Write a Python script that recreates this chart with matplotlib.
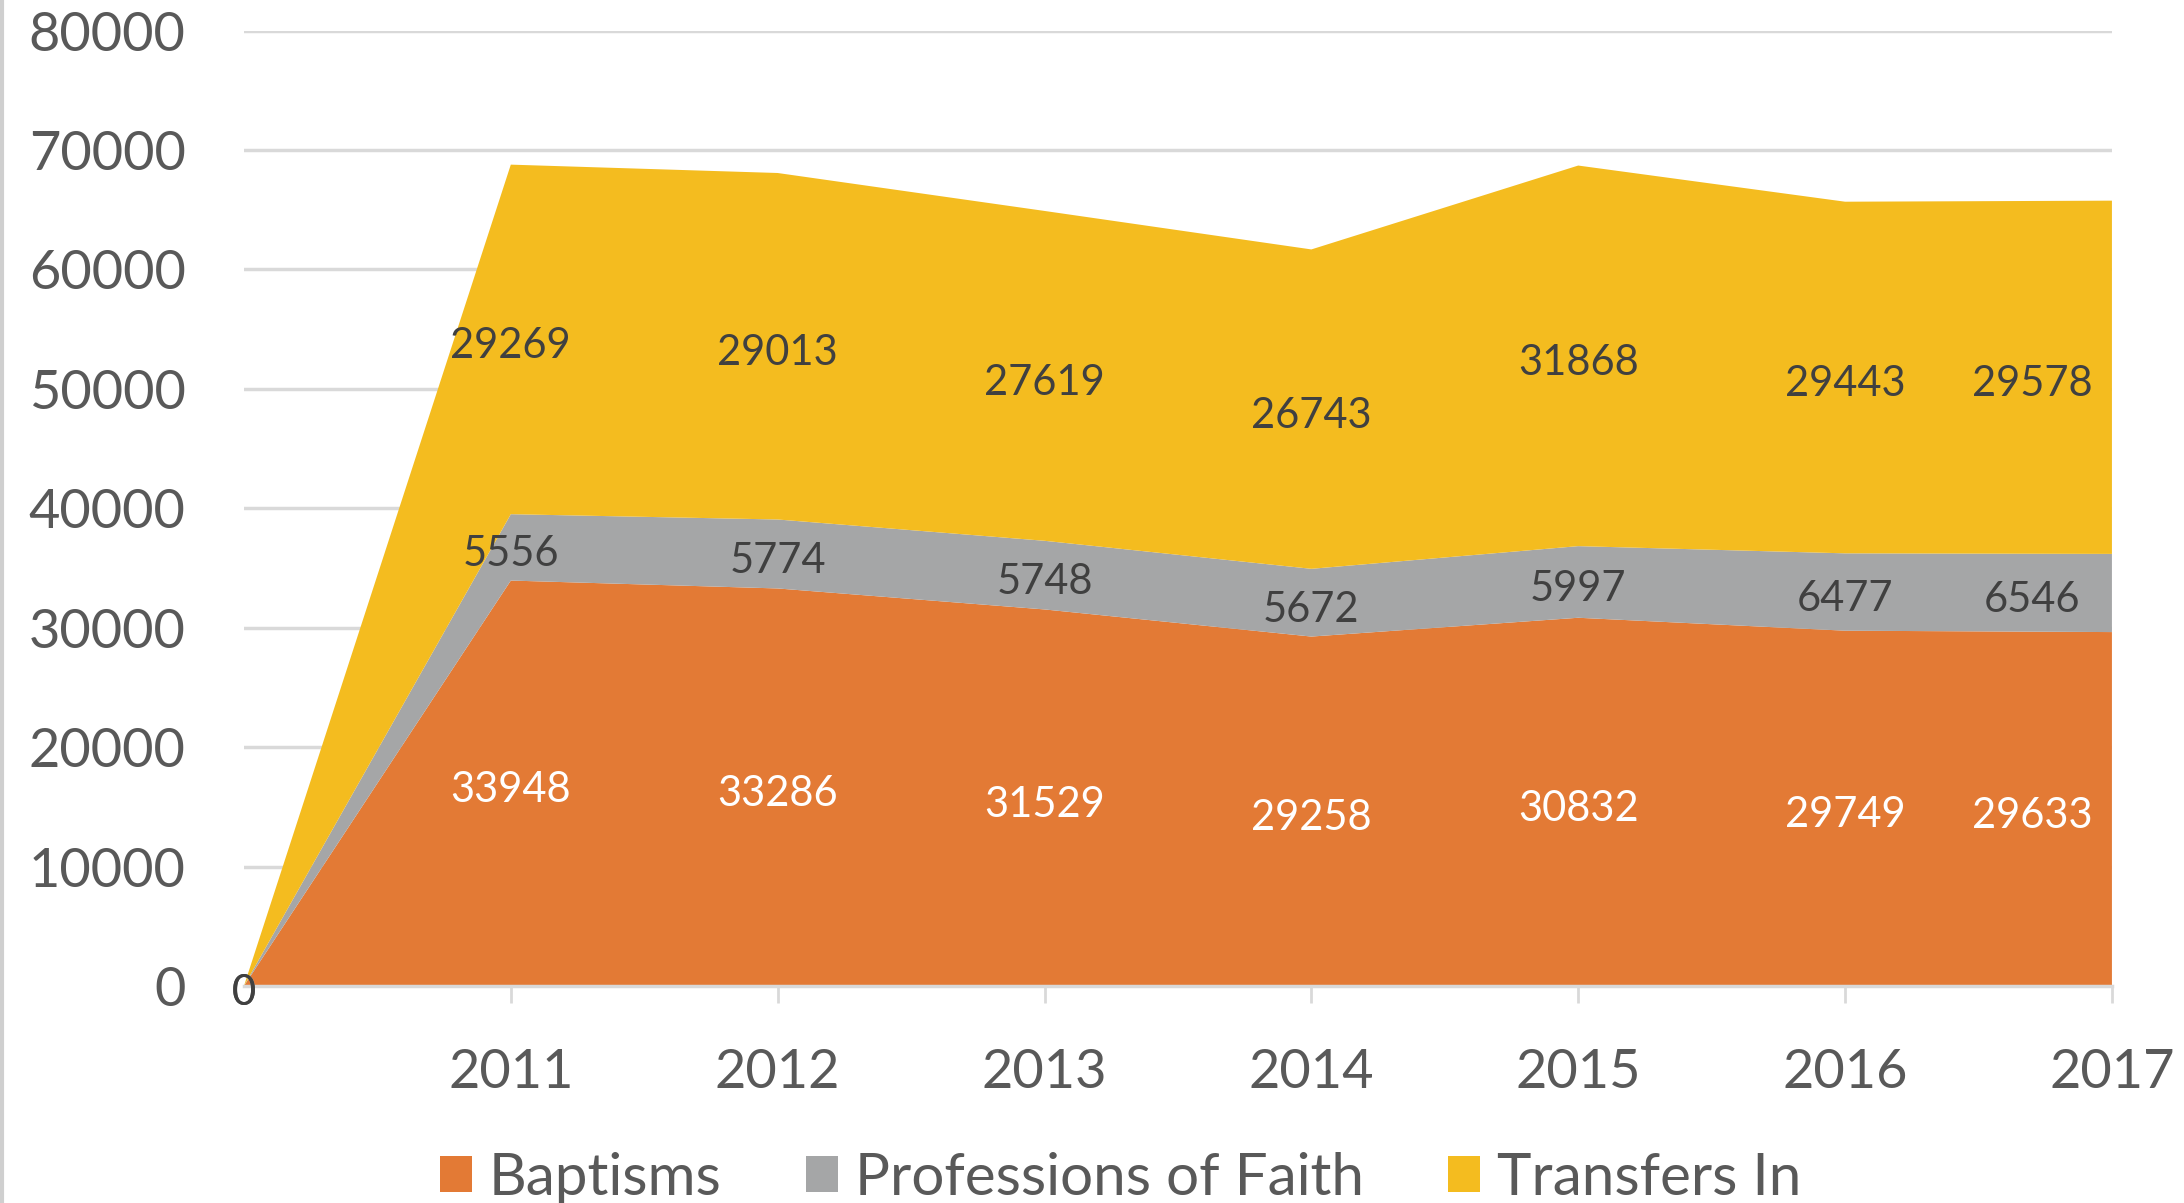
import matplotlib
matplotlib.use("Agg")
import matplotlib.pyplot as plt
from matplotlib.patches import Patch
from matplotlib.lines import Line2D

plt.rcParams['font.family'] = ['Lato', 'DejaVu Sans']

# data (first point is the zero start)
years = ["", "2011", "2012", "2013", "2014", "2015", "2016", "2017"]
baptisms = [0, 33948, 33286, 31529, 29258, 30832, 29749, 29633]
professions = [0, 5556, 5774, 5748, 5672, 5997, 6477, 6546]
transfers = [0, 29269, 29013, 27619, 26743, 31868, 29443, 29578]
series_names = ["Baptisms", "Professions of Faith", "Transfers In"]
y_ticks = [0, 10000, 20000, 30000, 40000, 50000, 60000, 70000, 80000]

colors = ["#E37A35", "#A5A6A7", "#F4BC1F"]
label_colors = ["#FFFFFF", "#404040", "#404040"]
grid_col = "#D9D9D9"
text_col = "#595959"

fig = plt.figure(figsize=(21.84, 12.03), dpi=100)
ax = fig.add_axes([0.1117, 0.1804, 0.8553, 0.7942])

x = list(range(len(years)))
ax.stackplot(x, baptisms, professions, transfers, colors=colors, linewidth=0, zorder=2)

ax.set_xlim(0, len(years) - 1)
ax.set_ylim(0, 80000)
ax.set_yticks(y_ticks)
ax.set_yticklabels([str(v) for v in y_ticks])
ax.yaxis.grid(True, color=grid_col, linewidth=2.5, zorder=0)
ax.set_axisbelow(True)

ax.set_xticks(x[1:])
ax.set_xticklabels(years[1:])

for s in ["top", "right", "left"]:
    ax.spines[s].set_visible(False)
ax.spines["bottom"].set_color(grid_col)
ax.spines["bottom"].set_linewidth(2.5)

ax.tick_params(axis="y", length=0, pad=42, labelsize=39, labelcolor=text_col)
ax.tick_params(axis="x", length=12, width=2, color=grid_col, pad=33,
               labelsize=39, labelcolor=text_col)

# data labels in the middle of each band
bottoms = [0] * len(years)
for vals, lc in zip([baptisms, professions, transfers], label_colors):
    for i, v in enumerate(vals):
        xi = i if i < len(years) - 1 else i - 0.3
        ax.annotate(str(v), (xi, bottoms[i] + v / 2), xytext=(0, -5),
                    textcoords="offset points", ha="center", va="center",
                    fontsize=30, color=lc, zorder=5)
    bottoms = [b + v for b, v in zip(bottoms, vals)]

handles = [Patch(facecolor=c, edgecolor="none") for c in colors]
fig.legend(handles, series_names, loc="center", bbox_to_anchor=(0.513, 0.0205),
           ncol=3, frameon=False, fontsize=42, labelcolor=text_col,
           handlelength=0.56, handleheight=0.56, handletextpad=0.28,
           columnspacing=1.44)

# thin border line at the left edge of the image
fig.add_artist(Line2D([0.001, 0.001], [0, 1], transform=fig.transFigure,
                      color="#CFCFCF", linewidth=3))

fig.savefig("out.png", dpi=100, facecolor="white")
